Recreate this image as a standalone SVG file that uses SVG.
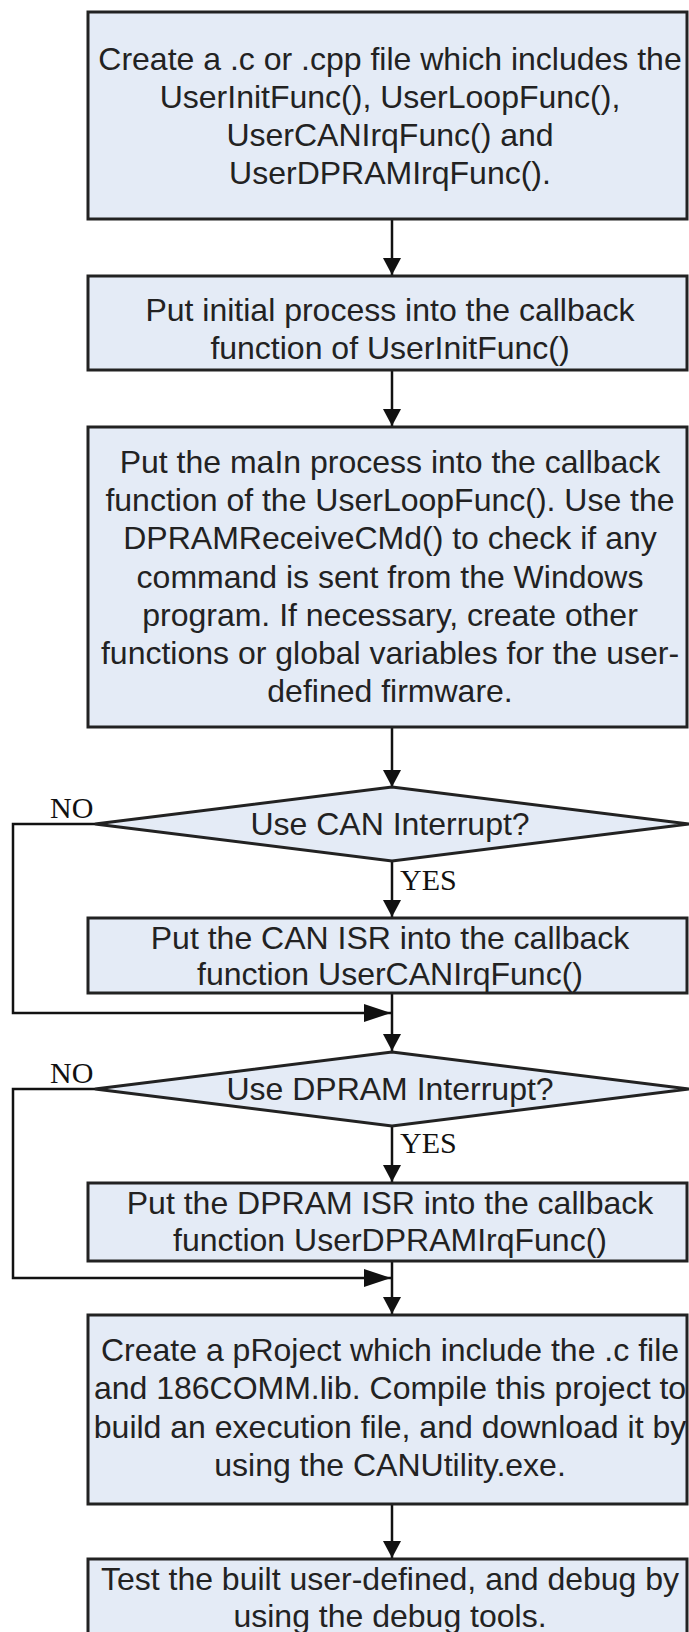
<svg xmlns="http://www.w3.org/2000/svg" width="689" height="1632" viewBox="0 0 689 1632">
<style>
.box{fill:#e4ebf6;stroke:#222;stroke-width:3}
.t{font-family:"Liberation Sans",Arial,sans-serif;font-size:32px;fill:#222;text-anchor:middle}
.lbl{font-family:"Liberation Serif","Times New Roman",serif;font-size:30px;fill:#111}
.c{fill:none;stroke:#111;stroke-width:2.5}
</style>
<defs>
<marker id="ah" viewBox="0 0 10 10" refX="10" refY="5" markerWidth="17" markerHeight="18" markerUnits="userSpaceOnUse" orient="auto" preserveAspectRatio="none"><path d="M0,0 L10,5 L0,10 z" fill="#111"/></marker>
<marker id="ahl" viewBox="0 0 10 10" refX="10" refY="5" markerWidth="27" markerHeight="18" markerUnits="userSpaceOnUse" orient="auto" preserveAspectRatio="none"><path d="M0,0 L10,5 L0,10 z" fill="#111"/></marker>
</defs>
<rect width="689" height="1632" fill="#fff"/>
<g id="connectors">
<line class="c" x1="392" y1="219" x2="392" y2="275" marker-end="url(#ah)"/>
<line class="c" x1="392" y1="370" x2="392" y2="426" marker-end="url(#ah)"/>
<line class="c" x1="392" y1="727" x2="392" y2="787" marker-end="url(#ah)"/>
<line class="c" x1="392" y1="861" x2="392" y2="917" marker-end="url(#ah)"/>
<line class="c" x1="392" y1="993" x2="392" y2="1051" marker-end="url(#ah)"/>
<polyline class="c" points="95,824 13,824 13,1013 391,1013" marker-end="url(#ahl)"/>
<line class="c" x1="392" y1="1126" x2="392" y2="1182" marker-end="url(#ah)"/>
<polyline class="c" points="95,1089 13,1089 13,1278 391,1278" marker-end="url(#ahl)"/>
<line class="c" x1="392" y1="1261" x2="392" y2="1314" marker-end="url(#ah)"/>
<line class="c" x1="392" y1="1504" x2="392" y2="1558" marker-end="url(#ah)"/>
<text class="lbl" x="50" y="818">NO</text>
<text class="lbl" x="400" y="890">YES</text>
<text class="lbl" x="50" y="1083">NO</text>
<text class="lbl" x="400" y="1153">YES</text>
</g>
<g id="n1">
<rect class="box" x="88" y="12" width="599" height="207"/>
<text class="t" x="390" y="70">Create a .c or .cpp file which includes the</text>
<text class="t" x="390" y="108">UserInitFunc(), UserLoopFunc(),</text>
<text class="t" x="390" y="146">UserCANIrqFunc() and</text>
<text class="t" x="390" y="184">UserDPRAMIrqFunc().</text>
</g>
<g id="n2">
<rect class="box" x="88" y="276" width="599" height="94"/>
<text class="t" x="390" y="321">Put initial process into the callback</text>
<text class="t" x="390" y="359">function of UserInitFunc()</text>
</g>
<g id="n3">
<rect class="box" x="88" y="427" width="599" height="300"/>
<text class="t" x="390" y="473">Put the maIn process into the callback</text>
<text class="t" x="390" y="511">function of the UserLoopFunc(). Use the</text>
<text class="t" x="390" y="549">DPRAMReceiveCMd() to check if any</text>
<text class="t" x="390" y="588">command is sent from the Windows</text>
<text class="t" x="390" y="626">program. If necessary, create other</text>
<text class="t" x="390" y="664">functions or global variables for the user-</text>
<text class="t" x="390" y="702">defined firmware.</text>
</g>
<g id="d1">
<polygon class="box" points="392,787 689,824 392,861 95,824"/>
<text class="t" x="390" y="835">Use CAN Interrupt?</text>
</g>
<g id="n4">
<rect class="box" x="88" y="918" width="599" height="75"/>
<text class="t" x="390" y="949">Put the CAN ISR into the callback</text>
<text class="t" x="390" y="985">function UserCANIrqFunc()</text>
</g>
<g id="d2">
<polygon class="box" points="392,1052 689,1089 392,1126 95,1089"/>
<text class="t" x="390" y="1100">Use DPRAM Interrupt?</text>
</g>
<g id="n5">
<rect class="box" x="88" y="1183" width="599" height="78"/>
<text class="t" x="390" y="1214">Put the DPRAM ISR into the callback</text>
<text class="t" x="390" y="1251">function UserDPRAMIrqFunc()</text>
</g>
<g id="n6">
<rect class="box" x="88" y="1315" width="599" height="189"/>
<text class="t" x="390" y="1361">Create a pRoject which include the .c file</text>
<text class="t" x="390" y="1399">and 186COMM.lib. Compile this project to</text>
<text class="t" x="390" y="1438">build an execution file, and download it by</text>
<text class="t" x="390" y="1476">using the CANUtility.exe.</text>
</g>
<g id="n7">
<rect class="box" x="88" y="1559" width="599" height="90"/>
<text class="t" x="390" y="1590">Test the built user-defined, and debug by</text>
<text class="t" x="390" y="1627">using the debug tools.</text>
</g>
</svg>
